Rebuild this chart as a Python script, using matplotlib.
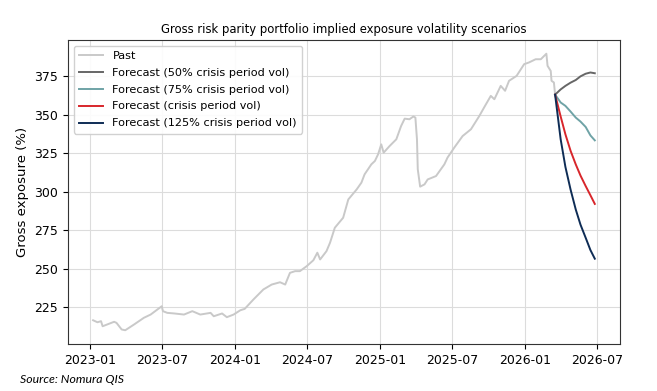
"""Gross risk parity exposure: past path plus vol-scenario forecasts."""

import matplotlib
matplotlib.use("Agg")
import matplotlib.pyplot as plt
import matplotlib.dates as mdates
import pandas as pd

# past gross exposure
past_dates = [
    "2023-01-09", "2023-01-20", "2023-01-29", "2023-02-02", "2023-03-03", "2023-03-09",
    "2023-03-22", "2023-03-31", "2023-04-22", "2023-05-17", "2023-06-03", "2023-07-01",
    "2023-07-04", "2023-07-15", "2023-08-02", "2023-08-26", "2023-09-16", "2023-10-06",
    "2023-11-01", "2023-11-09", "2023-11-30", "2023-12-12", "2023-12-29", "2024-01-15",
    "2024-01-26", "2024-02-17", "2024-03-13", "2024-04-03", "2024-04-24", "2024-05-07",
    "2024-05-19", "2024-06-01", "2024-06-13", "2024-06-30", "2024-07-17", "2024-07-27",
    "2024-08-03", "2024-08-19", "2024-08-28", "2024-09-09", "2024-09-30", "2024-10-13",
    "2024-11-03", "2024-11-15", "2024-11-23", "2024-12-10", "2024-12-19", "2024-12-27",
    "2025-01-04", "2025-01-10", "2025-01-25", "2025-02-11", "2025-02-23", "2025-03-04",
    "2025-03-16", "2025-03-26", "2025-03-31", "2025-04-04", "2025-04-06", "2025-04-12",
    "2025-04-23", "2025-05-01", "2025-05-22", "2025-06-12", "2025-06-20", "2025-07-07",
    "2025-07-28", "2025-08-18", "2025-09-08", "2025-09-20", "2025-10-07", "2025-10-16",
    "2025-11-01", "2025-11-12", "2025-11-22", "2025-12-11", "2025-12-30", "2026-01-11",
    "2026-01-28", "2026-02-10", "2026-02-24", "2026-02-27", "2026-03-07", "2026-03-09",
    "2026-03-15", "2026-03-18",
]
past_values = [
    216.4, 215.1, 215.8, 212.5, 215.4, 214.7,
    210.4, 209.9, 213.6, 218.0, 220.1, 225.5,
    222.3, 221.2, 220.8, 220.1, 222.3, 220.1,
    221.2, 219.0, 220.8, 218.4, 220.1, 222.9,
    223.8, 229.9, 236.4, 239.6, 241.1, 239.6,
    247.2, 248.3, 248.3, 251.5, 255.4, 260.3,
    255.9, 261.3, 266.8, 276.5, 283.0, 294.9,
    301.4, 305.8, 311.2, 317.7, 319.9, 324.2,
    330.7, 325.3, 329.6, 334.0, 342.6, 347.4,
    347.0, 348.8, 348.1, 334.0, 314.5, 303.2,
    304.7, 307.9, 310.1, 317.7, 322.1, 328.6,
    336.1, 340.5, 349.1, 354.6, 362.2, 360.0,
    368.7, 365.5, 372.0, 375.2, 382.8, 383.9,
    386.0, 386.0, 389.6, 381.7, 378.4, 372.0,
    370.9, 363.0,
]

# forecast paths
forecast_dates = [
    "2026-03-18", "2026-04-01", "2026-04-13", "2026-04-26", "2026-05-09",
    "2026-05-21", "2026-06-03", "2026-06-15", "2026-06-26",
]
fc_50 = [363.0, 366.4, 368.7, 370.8, 372.5, 374.9, 376.6, 377.4, 376.9]
fc_75 = [363.0, 357.9, 355.7, 352.0, 348.1, 345.5, 342.0, 336.5, 333.3]
fc_100 = [363.0, 348.8, 337.2, 326.5, 317.7, 310.4, 303.6, 297.6, 292.0]
fc_125 = [363.0, 334.0, 316.0, 301.3, 288.4, 278.5, 270.0, 262.0, 256.4]

series_labels = [
    "Past",
    "Forecast (50% crisis period vol)",
    "Forecast (75% crisis period vol)",
    "Forecast (crisis period vol)",
    "Forecast (125% crisis period vol)",
]

COLORS = ["#c9c9c9", "#666666", "#6fa3a6", "#d8262b", "#0e2c55"]

plt.rcParams.update({
    "font.family": ["DejaVu Sans"],
    "font.size": 9,
})

fig = plt.figure(figsize=(6.57, 3.91), dpi=100)
ax = fig.add_axes([0.1035, 0.12, 0.84, 0.778])

past_x = pd.to_datetime(past_dates)
fc_x = pd.to_datetime(forecast_dates)

ax.plot(past_x, past_values, color=COLORS[0], linewidth=1.4, label=series_labels[0])
for vals, color, label in zip([fc_50, fc_75, fc_100, fc_125], COLORS[1:], series_labels[1:]):
    ax.plot(fc_x, vals, color=color, linewidth=1.4, label=label)

ax.set_title("Gross risk parity portfolio implied exposure volatility scenarios",
             fontsize=8.4, pad=5)
ax.set_ylabel("Gross exposure (%)", fontsize=9.5)
ax.set_yticks([225, 250, 275, 300, 325, 350, 375])
ax.xaxis.set_major_locator(mdates.MonthLocator(bymonth=[1, 7]))
ax.xaxis.set_major_formatter(mdates.DateFormatter("%Y-%m"))
ax.tick_params(axis="both", labelsize=9)
ax.grid(True, color="#dcdcdc", linewidth=0.8)
ax.set_axisbelow(True)
for spine in ax.spines.values():
    spine.set_color("#333333")

ax.legend(loc="upper left", fontsize=8.1, frameon=True, handlelength=2.2,
          borderpad=0.45, labelspacing=0.62, framealpha=0.9)

fig.text(0.03, 0.02, "Source: Nomura QIS", fontsize=8.8, style="italic",
         family=["Lato", "DejaVu Sans"])

fig.savefig("out.png", dpi=100)
